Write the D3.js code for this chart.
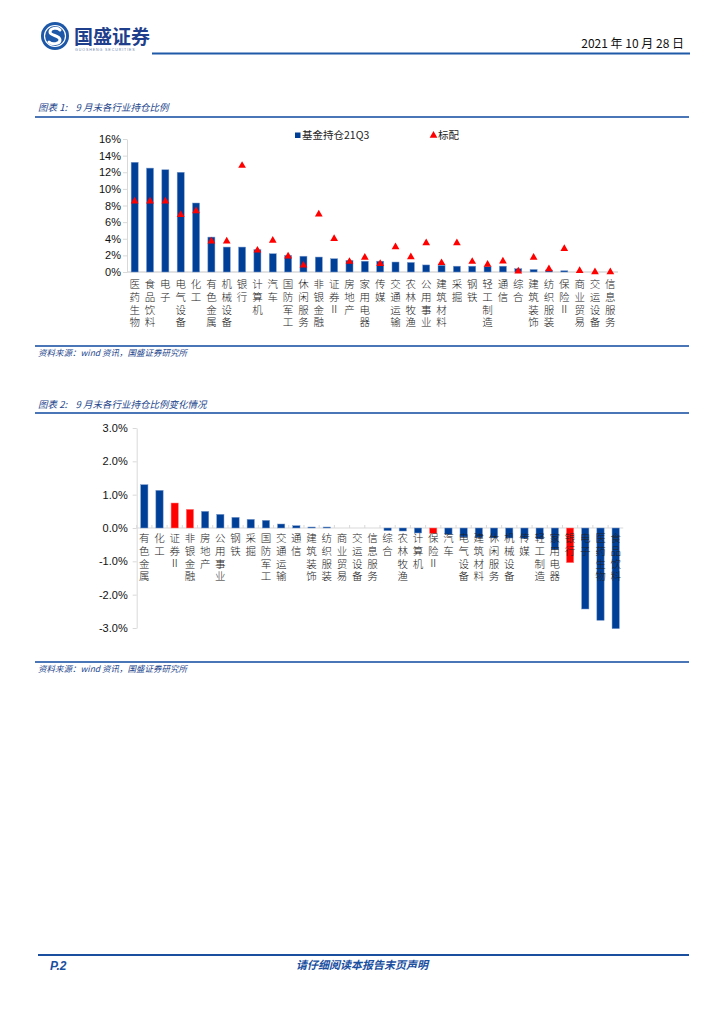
<!DOCTYPE html>
<html><head><meta charset="utf-8">
<script src="https://cdn.jsdelivr.net/npm/d3@7/dist/d3.min.js"></script>
<style>
body{margin:0;background:#fff;}
svg{display:block;}
.cjk{font-family:"Noto Sans CJK SC","Noto Sans",sans-serif;}
.num{font-family:"Liberation Sans",Arial,sans-serif;}
.vt{writing-mode:vertical-rl;text-orientation:upright;}
</style></head>
<body>
<script>
// ===== Data: Chart 1 =====
const cats1 = ["医药生物","食品饮料","电子","电气设备","化工","有色金属","机械设备","银行","计算机","汽车","国防军工","休闲服务","非银金融","证券Ⅱ","房地产","家用电器","传媒","交通运输","农林牧渔","公用事业","建筑材料","采掘","钢铁","轻工制造","通信","综合","建筑装饰","纺织服装","保险Ⅱ","商业贸易","交运设备","信息服务"];
const holding21Q3 = [13.2,12.5,12.3,12.0,8.3,4.2,3.0,3.0,2.7,2.2,2.0,1.9,1.8,1.6,1.4,1.3,1.3,1.2,1.15,0.85,0.8,0.7,0.7,0.65,0.7,0.4,0.3,0.25,0.15,0.0,0.0,0.0];
const benchmark = [8.5,8.5,8.5,6.9,7.35,3.7,3.7,12.8,2.6,3.8,1.9,0.8,6.95,4.0,1.25,1.75,1.0,3.0,1.8,3.5,1.1,3.5,1.25,0.9,1.3,0.1,1.75,0.35,2.8,0.15,0.0,0.0];
const yTicks1 = [0,2,4,6,8,10,12,14,16];

// ===== Data: Chart 2 =====
const cats2 = ["有色金属","化工","证券Ⅱ","非银金融","房地产","公用事业","钢铁","采掘","国防军工","交通运输","通信","建筑装饰","纺织服装","商业贸易","交运设备","信息服务","综合","农林牧渔","计算机","保险Ⅱ","汽车","电气设备","建筑材料","休闲服务","机械设备","传媒","轻工制造","家用电器","银行","电子","医药生物","食品饮料"];
const change = [1.30,1.13,0.75,0.56,0.50,0.41,0.32,0.26,0.23,0.12,0.07,0.03,0.03,0.0,0.0,0.0,-0.08,-0.09,-0.15,-0.16,-0.19,-0.27,-0.29,-0.30,-0.30,-0.32,-0.33,-0.65,-1.04,-2.43,-2.77,-3.02];
const financials = ["证券Ⅱ","非银金融","保险Ⅱ","银行"];
const yTicks2 = [-3,-2,-1,0,1,2,3];

const BLUE = "#003f98", RED = "#ff0000", NAVY = "#24468c", AXIS = "#d9d9d9", LINE = "#4a76b8";
const NB = "\u00a0";

const svg = d3.select("body").append("svg").attr("width",724).attr("height",1024);

// ===== Header =====
const logo = svg.append("g");
logo.append("circle").attr("cx",55).attr("cy",36).attr("r",14).attr("fill","#1d57a7");
logo.append("circle").attr("cx",55).attr("cy",36).attr("r",10.5).attr("fill","none").attr("stroke","#fff").attr("stroke-width",1.2);
logo.append("path").attr("d","M60,30 C57,27 50,28 50,32 C50,36 60,35 60,40 C60,44 52,45 49,42")
  .attr("fill","none").attr("stroke","#fff").attr("stroke-width",3).attr("stroke-linecap","round");
svg.append("text").attr("class","cjk").attr("x",74).attr("y",44).attr("font-size",19).attr("font-weight","bold")
  .attr("fill","#1f3f8c").text("国盛证券");
svg.append("text").attr("class","num").attr("x",75).attr("y",51).attr("font-size",3.6).attr("letter-spacing",0.9)
  .attr("fill","#6a7fa8").text("GUOSHENG SECURITIES");
svg.append("line").attr("x1",152).attr("x2",690).attr("y1",53.5).attr("y2",53.5).attr("stroke","#1f5aa8").attr("stroke-width",2);
svg.append("text").attr("class","cjk").attr("x",684).attr("y",48).attr("text-anchor","end").attr("font-size",12)
  .attr("fill","#111").text("2021 年 10 月 28 日");

// ===== Section frames =====
function section(titleY, lineTop, lineBot, title){
  svg.append("text").attr("class","cjk").attr("x",38).attr("y",titleY).attr("font-size",9.5).attr("font-style","italic")
    .attr("fill",NAVY).text(title);
  svg.append("line").attr("x1",35).attr("x2",689).attr("y1",lineTop).attr("y2",lineTop).attr("stroke",LINE).attr("stroke-width",2);
  svg.append("line").attr("x1",35).attr("x2",689).attr("y1",lineBot).attr("y2",lineBot).attr("stroke",LINE).attr("stroke-width",2);
  svg.append("text").attr("class","cjk").attr("x",38).attr("y",lineBot+10).attr("font-size",8.5).attr("font-style","italic")
    .attr("fill",NAVY).text("资料来源：wind"+NB+"资讯，国盛证券研究所");
}
section(111,117,346,"图表"+NB+"1:"+NB+NB+NB+NB+"9"+NB+"月末各行业持仓比例");
section(408,413,662,"图表"+NB+"2:"+NB+NB+NB+NB+"9"+NB+"月末各行业持仓比例变化情况");

function vlabel(g, x, top, str){
  g.append("text").attr("class","cjk vt").attr("font-size",10.5).attr("font-weight",300).attr("fill","#222")
    .attr("letter-spacing",2.2).attr("x",x).attr("y",top).text(str);
}

// ===== Chart 1 =====
{
  const x = d3.scaleBand().domain(cats1).range([127,618]).paddingInner(0.54).paddingOuter(0.27);
  const y = d3.scaleLinear().domain([0,16]).range([272,139]);
  const g = svg.append("g");
  const ax = g.append("g").attr("transform","translate(127,0)")
    .call(d3.axisLeft(y).tickValues(yTicks1).tickFormat(d=>d+"%").tickSize(4).tickSizeOuter(0));
  ax.select(".domain").attr("stroke",AXIS);
  ax.selectAll(".tick line").attr("stroke",AXIS);
  ax.selectAll(".tick text").attr("class","num").attr("font-size",11).attr("fill","#111").attr("x",-6);
  g.append("line").attr("x1",127).attr("x2",618).attr("y1",y(0)).attr("y2",y(0)).attr("stroke",AXIS).attr("stroke-width",1.5);
  g.selectAll("rect.bar").data(cats1).join("rect").attr("class","bar")
    .attr("x",d=>x(d)).attr("width",x.bandwidth())
    .attr("y",(d,i)=>y(holding21Q3[i])).attr("height",(d,i)=>y(0)-y(holding21Q3[i]))
    .attr("fill",BLUE).attr("stroke","#7d9ccc").attr("stroke-width",0.5);
  const tri = d3.symbol().type(d3.symbolTriangle).size(26);
  g.selectAll("path.tri").data(cats1).join("path").attr("class","tri").attr("d",tri)
    .attr("transform",(d,i)=>`translate(${x(d)+x.bandwidth()/2},${y(benchmark[i])})`).attr("fill",RED);
  cats1.forEach(c=>vlabel(g, x(c)+x.bandwidth()/2, 279, c));
  // legend
  g.append("rect").attr("x",295).attr("y",132.5).attr("width",5.5).attr("height",5.5).attr("fill",BLUE);
  g.append("text").attr("class","cjk").attr("x",302).attr("y",139).attr("font-size",10.5).attr("fill","#222").text("基金持仓21Q3");
  g.append("path").attr("d",tri).attr("transform","translate(433.5,135.5)").attr("fill",RED);
  g.append("text").attr("class","cjk").attr("x",438).attr("y",139).attr("font-size",10.5).attr("fill","#222").text("标配");
}

// ===== Chart 2 =====
{
  const x = d3.scaleBand().domain(cats2).range([136.7,623.3]).paddingInner(0.52).paddingOuter(0.26);
  const y = d3.scaleLinear().domain([-3,3]).range([628,428]);
  const g = svg.append("g");
  const ax = g.append("g").attr("transform","translate(136.7,0)")
    .call(d3.axisLeft(y).tickValues(yTicks2).tickFormat(d=>d.toFixed(1)+"%").tickSize(4).tickSizeOuter(0));
  ax.select(".domain").attr("stroke",AXIS);
  ax.selectAll(".tick line").attr("stroke",AXIS);
  ax.selectAll(".tick text").attr("class","num").attr("font-size",11).attr("fill","#111").attr("x",-9);
  g.append("line").attr("x1",136.7).attr("x2",623.3).attr("y1",y(0)).attr("y2",y(0)).attr("stroke",AXIS).attr("stroke-width",1.2);
  g.selectAll("line.ctick").data(cats2).join("line").attr("class","ctick")
    .attr("x1",d=>x(d)-x.step()*x.paddingInner()/2).attr("x2",d=>x(d)-x.step()*x.paddingInner()/2)
    .attr("y1",y(0)-3).attr("y2",y(0)).attr("stroke",AXIS);
  g.selectAll("rect.bar").data(cats2).join("rect").attr("class","bar")
    .attr("x",d=>x(d)).attr("width",x.bandwidth())
    .attr("y",(d,i)=>y(Math.max(0,change[i]))).attr("height",(d,i)=>Math.abs(y(change[i])-y(0)))
    .attr("fill",d=>financials.includes(d)?RED:BLUE).attr("stroke",d=>financials.includes(d)?"#ff8080":"#7d9ccc").attr("stroke-width",0.5);
  cats2.forEach(c=>vlabel(g, x(c)+x.bandwidth()/2, 533, c));
}

// ===== Footer =====
svg.append("line").attr("x1",38).attr("x2",689).attr("y1",955).attr("y2",955).attr("stroke","#1a4f9f").attr("stroke-width",2.2);
svg.append("text").attr("class","num").attr("x",50).attr("y",970).attr("font-size",12).attr("font-weight","bold").attr("font-style","italic")
  .attr("fill","#1a4f9f").text("P.2");
svg.append("text").attr("class","cjk").attr("x",362).attr("y",969).attr("text-anchor","middle").attr("font-size",11).attr("font-weight","bold").attr("font-style","italic")
  .attr("fill","#1a4f9f").text("请仔细阅读本报告末页声明");
</script>
</body></html>
